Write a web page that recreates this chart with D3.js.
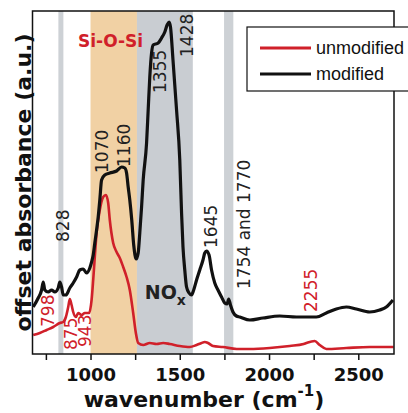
<!DOCTYPE html>
<html>
<head>
<meta charset="utf-8">
<script src="https://cdn.jsdelivr.net/npm/d3@7"></script>
<style>
  body { margin: 0; background: #fff; }
  svg { font-family: "DejaVu Sans", sans-serif; }
</style>
</head>
<body>
<svg id="chart" width="408" height="413"></svg>
<script>
// FTIR spectra, offset absorbance (a.u.) versus wavenumber (cm^-1)
const modifiedWavenumber = [679, 707, 726, 735, 744, 763, 782, 800, 819, 828, 838, 847, 862, 884, 903, 922, 940, 959, 978, 996,
  1006, 1015, 1024, 1034, 1043, 1052, 1062, 1080, 1108, 1146, 1174, 1192, 1202, 1211, 1220, 1231, 1242, 1256, 1267, 1276,
  1286, 1295, 1314, 1323, 1332, 1342, 1351, 1379, 1398, 1416, 1429, 1440, 1448, 1462, 1482, 1500, 1510, 1518, 1528, 1538,
  1552, 1566, 1578, 1594, 1612, 1630, 1640, 1650, 1664, 1678, 1696, 1714, 1734, 1752, 1765, 1774, 1784, 1798, 1817, 1836,
  1892, 1966, 2060, 2153, 2265, 2321, 2377, 2433, 2489, 2564, 2620, 2657, 2694];
const modifiedAbsorbance = [0.47, 0.56, 0.64, 0.72, 0.64, 0.62, 0.64, 0.62, 0.66, 0.72, 0.67, 0.59, 0.59, 0.66, 0.71, 0.77, 0.84, 0.85, 0.81, 0.86,
  0.92, 0.99, 1.11, 1.24, 1.37, 1.54, 1.74, 1.79, 1.81, 1.83, 1.87, 1.86, 1.81, 1.67, 1.54, 1.34, 1.09, 0.95, 1.01, 1.21,
  1.47, 1.74, 2.11, 2.44, 2.77, 3.01, 3.09, 3.11, 3.16, 3.22, 3.29, 3.32, 3.27, 2.94, 2.44, 1.94, 1.41, 1.07, 0.84, 0.67,
  0.61, 0.59, 0.64, 0.74, 0.84, 0.94, 1.01, 1.03, 0.99, 0.84, 0.71, 0.64, 0.57, 0.51, 0.50, 0.55, 0.49, 0.42, 0.38, 0.37,
  0.34, 0.36, 0.38, 0.37, 0.37, 0.41, 0.45, 0.47, 0.45, 0.42, 0.44, 0.47, 0.54];

const unmodifiedWavenumber = [679, 716, 754, 791, 828, 847, 862, 875, 884, 894, 903, 918, 931, 950, 968, 992,
  1006, 1015, 1024, 1034, 1052, 1071, 1086, 1099, 1108, 1127, 1146, 1164, 1183, 1202, 1220, 1239, 1254, 1267,
  1295, 1332, 1370, 1407, 1444, 1500, 1556, 1594, 1622, 1640, 1658, 1686, 1742, 1819, 1892, 2004, 2116, 2194,
  2209, 2256, 2284, 2321, 2433, 2564, 2698];
const unmodifiedAbsorbance = [0.19, 0.21, 0.24, 0.27, 0.31, 0.32, 0.37, 0.47, 0.55, 0.49, 0.42, 0.37, 0.41, 0.39, 0.41, 0.41,
  0.54, 0.74, 0.97, 1.21, 1.44, 1.57, 1.59, 1.51, 1.34, 1.11, 1.02, 0.96, 0.87, 0.77, 0.64, 0.41, 0.21, 0.11,
  0.09, 0.11, 0.10, 0.11, 0.10, 0.08, 0.07, 0.09, 0.11, 0.12, 0.11, 0.08, 0.07, 0.05, 0.05, 0.06, 0.08, 0.10,
  0.11, 0.13, 0.09, 0.05, 0.06, 0.07, 0.07];

// Shaded spectral regions [from, to]
const siosiBand = [1000, 1260];
const noxBand = [1260, 1573];
const narrowBands = [[820, 848], [1748, 1800]];

// Peak labels: text, wavenumber of the label centre, level where the label starts
const peakLabels = [
  { text: "828", w: 843, a: 1.12, color: "#222" },
  { text: "1070", w: 1061, a: 1.81, color: "#222" },
  { text: "1160", w: 1187, a: 1.87, color: "#222" },
  { text: "1355", w: 1391, a: 2.61, color: "#222" },
  { text: "1428", w: 1542, a: 2.97, color: "#222" },
  { text: "1645", w: 1676, a: 1.06, color: "#222" },
  { text: "1754 and 1770", w: 1858, a: 0.65, color: "#222" },
  { text: "2255", w: 2236, a: 0.42, color: "#d0202a" },
  { text: "798", w: 762, a: 0.27, color: "#d0202a" },
  { text: "875", w: 890, a: 0.04, color: "#d0202a" },
  { text: "943", w: 969, a: 0.07, color: "#d0202a" }
];

const majorTicks = [1000, 1500, 2000, 2500];
const minorTicks = [750, 1250, 1750, 2250];

const seriesNames = ["unmodified", "modified"];
const seriesColors = ["#d0202a", "#111111"];

const svg = d3.select("#chart");
const margin = { left: 32.5, right: 14, top: 11, bottom: 59 };
const W = 408, H = 413;

const x = d3.scaleLinear().domain([675, 2700]).range([margin.left, W - margin.right]);
const y = d3.scaleLinear().domain([0, 3.43]).range([H - margin.bottom, margin.top]);

const plotTop = y.range()[1], plotBottom = y.range()[0];

// shaded bands
svg.append("rect")
  .attr("x", x(siosiBand[0])).attr("width", x(siosiBand[1]) - x(siosiBand[0]))
  .attr("y", plotTop).attr("height", plotBottom - plotTop)
  .attr("fill", "#f1d1a4");
svg.append("rect")
  .attr("x", x(noxBand[0])).attr("width", x(noxBand[1]) - x(noxBand[0]))
  .attr("y", plotTop).attr("height", plotBottom - plotTop)
  .attr("fill", "#c9cdd2");
svg.selectAll("rect.narrow").data(narrowBands).enter().append("rect")
  .attr("class", "narrow")
  .attr("x", d => x(d[0])).attr("width", d => x(d[1]) - x(d[0]))
  .attr("y", plotTop).attr("height", plotBottom - plotTop)
  .attr("fill", "#cdd1d5");

// spectra
const line = d3.line()
  .x(d => x(d[0])).y(d => y(d[1]))
  .curve(d3.curveMonotoneX);

const unmod = d3.zip(unmodifiedWavenumber, unmodifiedAbsorbance);
const mod = d3.zip(modifiedWavenumber, modifiedAbsorbance);

svg.append("path").datum(unmod).attr("d", line)
  .attr("fill", "none").attr("stroke", seriesColors[0]).attr("stroke-width", 2.6)
  .attr("stroke-linejoin", "round");
svg.append("path").datum(mod).attr("d", line)
  .attr("fill", "none").attr("stroke", seriesColors[1]).attr("stroke-width", 3.2)
  .attr("stroke-linejoin", "round");

// rotated peak labels
svg.selectAll("text.peak").data(peakLabels).enter().append("text")
  .attr("class", "peak")
  .attr("transform", d => `translate(${x(d.w)},${y(d.a)}) rotate(-90)`)
  .attr("dy", "0.36em")
  .attr("font-size", 17)
  .attr("fill", d => d.color)
  .text(d => d.text);

// region labels
svg.append("text")
  .attr("x", x(930)).attr("y", y(3.07))
  .attr("font-size", 17).attr("font-weight", "bold").attr("fill", "#d0202a")
  .text("Si-O-Si");

const nox = svg.append("text")
  .attr("x", x(1304)).attr("y", y(0.55))
  .attr("font-size", 19).attr("font-weight", "bold").attr("fill", "#222");
nox.append("tspan").text("NO");
nox.append("tspan").attr("font-size", 14).attr("dy", 6).text("x");

// axes
const xAxis = d3.axisBottom(x)
  .tickValues(majorTicks.concat(minorTicks))
  .tickFormat(d => majorTicks.includes(d) ? d : "")
  .tickSize(6).tickSizeOuter(0).tickPadding(8);

const gx = svg.append("g").attr("transform", `translate(0,${plotBottom})`).call(xAxis);
gx.select(".domain").remove();
gx.selectAll("line").attr("stroke", "#111").attr("stroke-width", 1.5);
gx.selectAll("text")
  .style("font-family", "'DejaVu Sans', sans-serif").attr("font-weight", "bold")
  .attr("font-size", 18).attr("fill", "#111");

// frame
svg.append("rect")
  .attr("x", x.range()[0]).attr("y", plotTop)
  .attr("width", x.range()[1] - x.range()[0]).attr("height", plotBottom - plotTop)
  .attr("fill", "none").attr("stroke", "#111").attr("stroke-width", 1.5);

// axis titles
const xt = svg.append("text")
  .attr("x", 204).attr("y", 407)
  .attr("text-anchor", "middle")
  .attr("font-size", 22).attr("font-weight", "bold").attr("fill", "#111");
xt.append("tspan").text("wavenumber (cm");
xt.append("tspan").attr("font-size", 15).attr("dy", -11).text("-1");
xt.append("tspan").attr("dy", 11).text(")");

svg.append("text")
  .attr("transform", `translate(31,${(plotTop + plotBottom) / 2}) rotate(-90)`)
  .attr("text-anchor", "middle")
  .attr("font-size", 22).attr("font-weight", "bold").attr("fill", "#111")
  .text("offset absorbance (a.u.)");

// legend
const lg = svg.append("g");
lg.append("rect")
  .attr("x", 247).attr("y", 27).attr("width", 200).attr("height", 64)
  .attr("fill", "#fff").attr("stroke", "#111").attr("stroke-width", 1.2);
seriesNames.forEach((name, i) => {
  const cy = 48 + i * 26;
  lg.append("line")
    .attr("x1", 260).attr("x2", 311).attr("y1", cy).attr("y2", cy)
    .attr("stroke", seriesColors[i]).attr("stroke-width", 3);
  lg.append("text")
    .attr("x", 316).attr("y", cy).attr("dy", "0.35em")
    .style("font-family", "'Liberation Sans', Arial, sans-serif")
    .attr("font-size", 18).attr("fill", "#111")
    .text(name);
});
</script>
</body>
</html>
